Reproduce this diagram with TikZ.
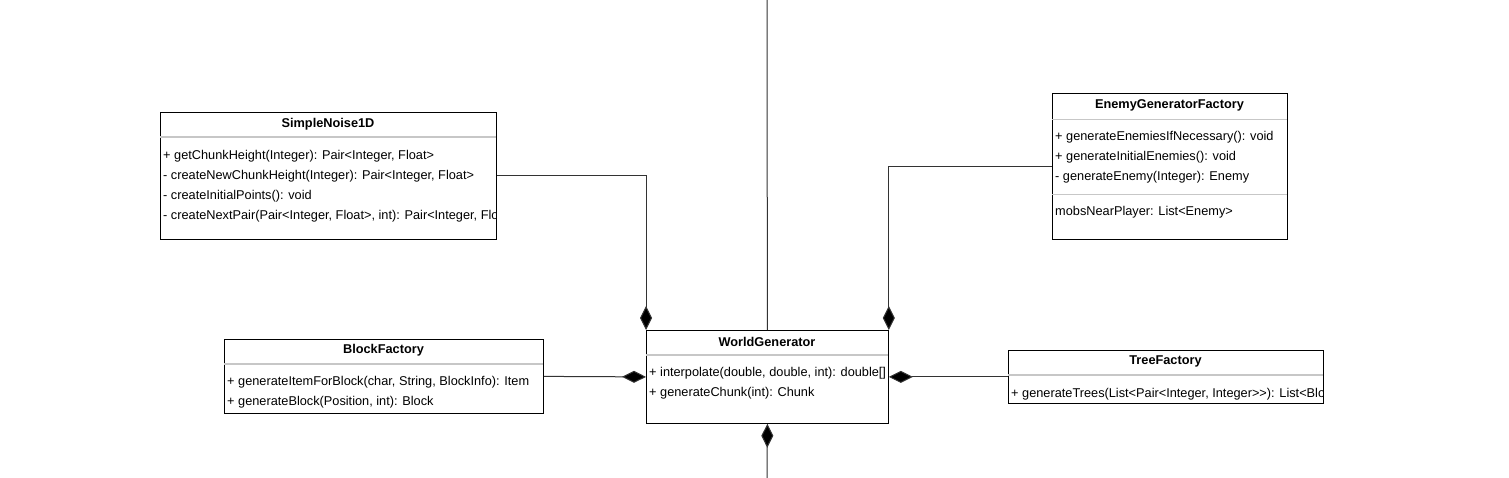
\documentclass[tikz,border=0pt]{standalone}
\usepackage{fontspec}
\setmainfont{Liberation Sans}
\usetikzlibrary{arrows.meta}
\tikzset{
  cls/.style={draw=black,line width=0.8pt,anchor=north west,inner sep=0pt},
  ttl/.style={font=\fontsize{12.75}{15}\selectfont\bfseries,inner sep=0pt},
  mem/.style={font=\fontsize{12.75}{15}\selectfont,anchor=west,inner sep=0pt},
  sep/.style={draw=black!22,line width=1.2pt},
  comp/.style={draw=black!80,line width=1pt,-{Diamond[length=24pt,width=12pt,fill=black]}},
  link/.style={draw=black!80,line width=1pt},
}
\begin{document}
\begin{tikzpicture}[x=1pt,y=-1pt]
        \fill[white] (0,0) rectangle (1509,478);
        \useasboundingbox (0,0) rectangle (1509,478);
        %% SimpleNoise1D
        \node[cls,minimum width=336pt,minimum height=127pt] (SN) at (160,112) {};
        \node[ttl] (SNt) at (328,124.5) {SimpleNoise1D};
        \draw[sep] (160,137) -- (496,137);
        \begin{scope}
            \clip (SN.north west) rectangle (SN.south east);
            \node[mem] (SN1) at (163,156) {+ getChunkHeight(Integer): Pair<Integer, Float>};
            \node[mem] (SN2) at (163,176) {- createNewChunkHeight(Integer): Pair<Integer, Float>};
            \node[mem] (SN3) at (163,196) {- createInitialPoints(): void};
            \node[mem] (SN4) at (163,216) {- createNextPair(Pair<Integer, Float>, int): Pair<Integer, Float>};
        \end{scope}
        %% EnemyGeneratorFactory
        \node[cls,minimum width=235pt,minimum height=146pt] (EG) at (1052,93.5) {};
        \node[ttl] (EGt) at (1169.5,105) {EnemyGeneratorFactory};
        \draw[sep] (1052,119.5) -- (1287,119.5);
        \node[mem] (EG1) at (1055,137.5) {+ generateEnemiesIfNecessary(): void};
        \node[mem] (EG2) at (1055,157.5) {+ generateInitialEnemies(): void};
        \node[mem] (EG3) at (1055,177.5) {- generateEnemy(Integer): Enemy};
        \draw[sep] (1052,194.5) -- (1287,194.5);
        \node[mem] (EG4) at (1055,212.5) {mobsNearPlayer: List<Enemy>};
        %% BlockFactory
        \node[cls,minimum width=319pt,minimum height=74pt] (BF) at (224,339) {};
        \node[ttl] (BFt) at (383.5,350.5) {BlockFactory};
        \draw[sep] (224,364) -- (543,364);
        \node[mem] (BF1) at (227,382) {+ generateItemForBlock(char, String, BlockInfo): Item};
        \node[mem] (BF2) at (227,402) {+ generateBlock(Position, int): Block};
        %% WorldGenerator
        \node[cls,minimum width=242pt,minimum height=93pt] (WG) at (646,330) {};
        \node[ttl] (WGt) at (767,341.5) {WorldGenerator};
        \draw[sep] (646,355) -- (888,355);
        \node[mem] (WG1) at (649,373) {+ interpolate(double, double, int): double[]};
        \node[mem] (WG2) at (649,393) {+ generateChunk(int): Chunk};
        %% TreeFactory
        \node[cls,minimum width=315pt,minimum height=53pt] (TF) at (1008,350) {};
        \node[ttl] (TFt) at (1165.5,361.5) {TreeFactory};
        \draw[sep] (1008,375) -- (1323,375);
        \begin{scope}
            \clip (TF.north west) rectangle (TF.south east);
            \node[mem] (TF1) at (1011,394) {+ generateTrees(List<Pair<Integer, Integer>{}>): List<Block>};
        \end{scope}
        %% connectors
        \coordinate (top) at (767,0);
        \coordinate (bottom) at (767,478);
        \draw[link] (top) -- (WG.north);
        \draw[comp] (SN.east) -| (WG.north west);
        \draw[comp] (EG.west) -| (WG.north east);
        \draw[comp] (BF.east) -- (WG.west);
        \draw[comp] (TF.west) -- (WG.east);
        \draw[comp] (bottom) -- (WG.south);
    \end{tikzpicture}
\end{document}
